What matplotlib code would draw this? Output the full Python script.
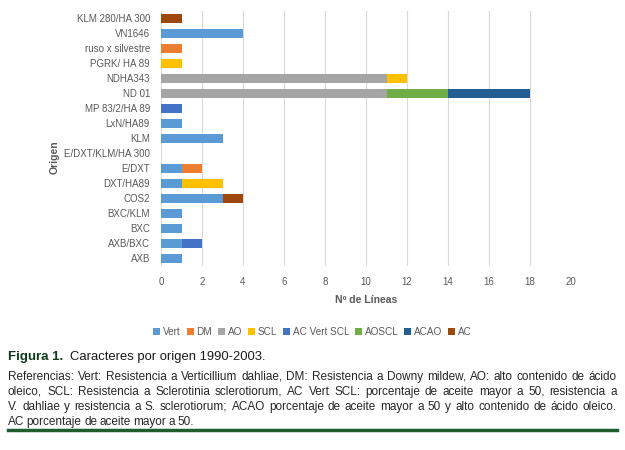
import math
import numpy as np
import matplotlib
matplotlib.use("Agg")
from matplotlib import pyplot as plt
from matplotlib.backends.backend_agg import get_hinting_flag

# categorias (de abajo hacia arriba) y series
origenes = ["AXB", "AXB/BXC", "BXC", "BXC/KLM", "COS2", "DXT/HA89", "E/DXT",
            "E/DXT/KLM/HA 300", "KLM", "LxN/HA89", "MP 83/2/HA 89", "ND 01",
            "NDHA343", "PGRK/ HA 89", "ruso x silvestre", "VN1646", "KLM 280/HA 300"]

vert       = [1, 1, 1, 1, 3, 1, 1, 0, 3, 1, 0, 0, 0, 0, 0, 4, 0]
dm         = [0, 0, 0, 0, 0, 0, 1, 0, 0, 0, 0, 0, 0, 0, 1, 0, 0]
ao         = [0, 0, 0, 0, 0, 0, 0, 0, 0, 0, 0, 11, 11, 0, 0, 0, 0]
scl        = [0, 0, 0, 0, 0, 2, 0, 0, 0, 0, 0, 0, 1, 1, 0, 0, 0]
ac_vert_scl = [0, 1, 0, 0, 0, 0, 0, 0, 0, 0, 1, 0, 0, 0, 0, 0, 0]
aoscl      = [0, 0, 0, 0, 0, 0, 0, 0, 0, 0, 0, 3, 0, 0, 0, 0, 0]
acao       = [0, 0, 0, 0, 0, 0, 0, 0, 0, 0, 0, 4, 0, 0, 0, 0, 0]
ac         = [0, 0, 0, 0, 1, 0, 0, 0, 0, 0, 0, 0, 0, 0, 0, 0, 1]

series = [("Vert", vert, "#5B9BD5"), ("DM", dm, "#ED7D31"), ("AO", ao, "#A5A5A5"),
          ("SCL", scl, "#FFC000"), ("AC Vert SCL", ac_vert_scl, "#4472C4"),
          ("AOSCL", aoscl, "#70AD47"), ("ACAO", acao, "#255E91"), ("AC", ac, "#9E480E")]

plt.rcParams["font.family"] = ["Liberation Sans", "DejaVu Sans"]
gris = "#595959"

fig = plt.figure(figsize=(6.25, 4.5), dpi=100)
ax = fig.add_axes([0.2576, 0.409, 0.656, 0.5666])

y = np.arange(len(origenes))
izq = np.zeros(len(origenes))
for nombre, vals, color in series:
    vals = np.array(vals, dtype=float)
    ax.barh(y, vals, left=izq, height=0.55, color=color, label=nombre, zorder=3)
    izq += vals

ax.set_xlim(0, 20)
ax.set_ylim(-0.5, len(origenes) - 0.5)
ax.set_xticks(range(0, 21, 2))
ax.set_yticks(y)
ax.set_yticklabels(origenes)
ax.tick_params(axis="both", length=0, labelsize=7, labelcolor=gris, pad=8)
ax.tick_params(axis="x", pad=8)
ax.grid(axis="x", color="#D9D9D9", linewidth=0.8, zorder=0)
for s in ax.spines.values():
    s.set_visible(False)

ax.set_xlabel("Nº de Líneas", fontsize=7.5, color=gris, fontweight="bold", labelpad=6)
fig.text(0.088, 0.65, "Origen", rotation=90, fontsize=7.5, color=gris,
         fontweight="bold", ha="center", va="center")

fig.legend(loc="center", bbox_to_anchor=(0.5, 0.262), ncol=8, frameon=False,
           fontsize=7.2, labelcolor=gris, handlelength=0.7, handleheight=0.7,
           handletextpad=0.3, columnspacing=0.55)

# pie de figura
fig.text(0.013, 0.207, "Figura 1.", fontsize=9.5, fontweight="bold", color="#0f3a1c",
         va="center")
fig.text(0.112, 0.207, "Caracteres por origen 1990-2003.", fontsize=9.4, color="#1a1a1a",
         va="center")

lineas = ["Referencias: Vert: Resistencia a Verticillium dahliae, DM: Resistencia a Downy mildew, AO: alto contenido de ácido",
          "oleico, SCL: Resistencia a Sclerotinia sclerotiorum, AC Vert SCL: porcentaje de aceite mayor a 50, resistencia a",
          "V. dahliae y resistencia a S. sclerotiorum; ACAO porcentaje de aceite mayor a 50 y alto contenido de ácido oleico.",
          "AC porcentaje de aceite mayor a 50."]

# texto justificado palabra por palabra; se corrige el redondeo vertical de Agg
x0, x1 = 8, 617
H = 450
rend = fig.canvas.get_renderer()

def ajuste(obj):
    # desplazamiento (px) para que todas las palabras caigan en la misma linea base
    try:
        font = rend._prepare_font(obj.get_fontproperties())
        font.set_text(obj.get_text(), 0, flags=get_hinting_flag())
        d = font.get_descent() / 64.0
        h = font.get_width_height()[1] / 64.0
        a = h - d
        return math.trunc(a + d) - math.floor(a) - d
    except Exception:
        return 0.0

for i, t in enumerate(lineas):
    base = round(H * (1 - 0.155) + i * 15)   # linea base (px desde arriba)
    palabras = t.split(" ")
    objs = [fig.text(0, 0, p, fontsize=8.5, color="#262626", va="baseline") for p in palabras]
    anchos = [o.get_window_extent(rend).width for o in objs]
    if i < len(lineas) - 1:
        hueco = (x1 - x0 - sum(anchos)) / (len(palabras) - 1)
    else:
        hueco = objs[0].get_fontsize() * 0.28
    xp = x0
    for o, w in zip(objs, anchos):
        yflip = base + ajuste(o)
        o.set_position((xp / 625, (H - yflip) / H))
        xp += w + hueco

fig.add_artist(plt.Line2D([0.013, 0.987], [0.044, 0.044], color="#1F5C2E", linewidth=2.5))

fig.savefig("out.png", dpi=100, facecolor="white")
